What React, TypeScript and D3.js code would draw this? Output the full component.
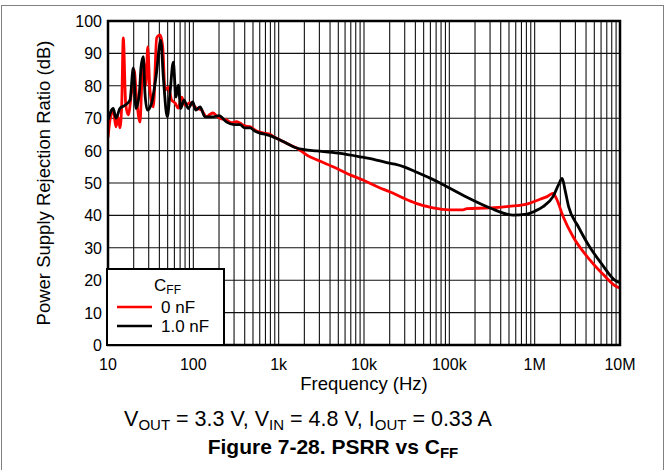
import React from "react";
import * as d3 from "d3";

const W = 666;
const H = 470;

const xTickValues = [10, 100, 1e3, 1e4, 1e5, 1e6, 1e7];
const xTickLabels = ["10", "100", "1k", "10k", "100k", "1M", "10M"];
const yTickValues = [0, 10, 20, 30, 40, 50, 60, 70, 80, 90, 100];

// 0 nF (red)
const red0nF: [number, number][] = [
  [10, 64], [10.55, 69.4], [11.5, 72.5], [12.4, 67.3], [13.1, 70.4], [13.8, 67],
  [14.5, 74.7], [15.1, 94.8], [16.1, 74.7], [17.2, 71], [19.0, 78.7], [20.2, 85],
  [21.7, 75.6], [23.7, 68.8], [24.8, 79.6], [25.9, 88], [27.9, 80.2], [29.2, 92],
  [31.0, 78.7], [34.0, 73.5], [37.2, 94.8], [40.7, 95.7], [43.8, 92], [46.6, 78.7],
  [50.9, 79.6], [55.7, 75.6], [61.0, 74.7], [66.7, 73.1], [73.1, 76.5], [79.9, 74],
  [91.4, 74.7], [109, 73.1], [125, 72.5], [143, 70.4], [157, 71.2], [170, 71.6],
  [190, 70.5], [215, 69.8], [246, 69.4], [280, 68.6], [320, 68.9], [352, 68.5],
  [400, 67.6], [461, 67.4], [530, 66.3], [604, 65.7], [700, 65.3], [791, 65.0],
  [900, 64.1], [1037, 63.3], [1358, 61.7], [1626, 60.8], [2200, 58.4], [2792, 57.2],
  [4335, 55], [6500, 52.8], [9730, 50.9], [15000, 48.6], [20000, 47.3], [28650, 45.4],
  [40000, 43.8], [64400, 42.3], [100000, 41.7], [144600, 41.7], [160000, 42.1],
  [300000, 42.3], [500000, 42.8], [807000, 43.5], [1156000, 45], [1400000, 45.8],
  [1640000, 46.8], [1800000, 45.2], [2160000, 39.6], [2820000, 33.4], [4460000, 26.2],
  [6500000, 21.5], [8750000, 18.3], [10000000, 17.6],
];

// 1.0 nF (black)
const black1nF: [number, number][] = [
  [10, 69.4], [11.5, 73], [12.4, 70], [13.8, 73], [15.8, 74], [18.1, 75.6],
  [19.8, 85.5], [21.3, 73], [23.3, 77.8], [24.4, 85.8], [25.9, 89], [27.1, 77.8],
  [28.9, 72.5], [32.5, 74.7], [36.5, 82.7], [41.5, 94], [44.5, 82.7], [49.5, 70.4],
  [53.3, 77.8], [58.2, 87.3], [62.6, 76.5], [66.7, 80.2], [71.1, 73], [77.7, 75.6],
  [87.3, 73], [98.3, 75], [107, 72.5], [120, 73.5], [137, 70.4], [170, 70.4],
  [200, 70.8], [246, 68.8], [300, 68.0], [352, 68], [400, 67], [461, 67],
  [530, 66], [604, 65.4], [700, 65.0], [791, 64.6], [900, 64], [1037, 63.3],
  [1358, 61.7], [1626, 60.8], [2000, 60.3], [2792, 59.9], [5000, 59.2], [8977, 58.1],
  [13000, 57.3], [18450, 56.3], [23000, 55.8], [30000, 54.9], [40000, 53.5], [59400, 51.5],
  [77800, 50], [150000, 46], [300000, 42.3], [557000, 40.1], [807000, 40.4],
  [1000000, 41.3], [1253000, 42.7], [1640000, 45.8], [1900000, 49.4], [2100000, 51.4],
  [2270000, 47.8], [2500000, 42.7], [3250000, 36.5], [4400000, 30.3], [6000000, 25.3],
  [8900000, 19.8], [10000000, 19.2],
];

const FONT = "'Liberation Sans', Arial, Helvetica, sans-serif";

export default function App() {
  const left = 108, right = 620, top = 21, bottom = 345;
  const x = d3.scaleLog().domain([10, 1e7]).range([left, right]);
  const y = d3.scaleLinear().domain([0, 100]).range([bottom, top]);

  const minor: number[] = [];
  for (let e = 1; e < 7; e++) {
    for (let m = 2; m <= 9; m++) minor.push(m * Math.pow(10, e));
  }

  const line = d3
    .line<[number, number]>()
    .x((d) => x(d[0]))
    .y((d) => y(d[1]))
    .curve(d3.curveMonotoneX);

  const legX = 107, legY = 269, legW = 117, legH = 76;

  return (
    <svg
      width={W}
      height={H}
      style={{ position: "absolute", left: 0, top: 0, background: "#fff" }}
      fontFamily={FONT}
    >
      <rect x={1.5} y={5.5} width={662} height={480} fill="#fff" stroke="#808080" strokeWidth={1} />
      <defs>
        <clipPath id="plotclip">
          <rect x={left} y={top} width={right - left} height={bottom - top} />
        </clipPath>
      </defs>
      {/* grid */}
      <g stroke="#111" strokeWidth={1.1}>
        {minor.concat(xTickValues).map((v, i) => (
          <line key={"v" + i} x1={x(v)} x2={x(v)} y1={top} y2={bottom} />
        ))}
        {yTickValues.map((v, i) => (
          <line key={"h" + i} x1={left} x2={right} y1={y(v)} y2={y(v)} />
        ))}
      </g>
      {/* curves */}
      <g clipPath="url(#plotclip)" fill="none" strokeWidth={2.8} strokeLinejoin="round">
        <path d={line(red0nF) || ""} stroke="#ff0000" />
        <path d={line(black1nF) || ""} stroke="#000000" />
      </g>
      {/* frame */}
      <rect x={left} y={top} width={right - left} height={bottom - top} fill="none" stroke="#000" strokeWidth={2.5} />
      {/* legend */}
      <rect x={legX} y={legY} width={legW} height={legH} fill="#fff" stroke="#000" strokeWidth={2} />
      <text x={legX + legW / 2 + 2} y={legY + 22} textAnchor="middle" fontSize={17}>
        C<tspan fontSize={12} dy={3}>FF</tspan>
      </text>
      <line x1={117} x2={152} y1={307} y2={307} stroke="#ff0000" strokeWidth={2.6} />
      <text x={161} y={313} fontSize={17}>0 nF</text>
      <line x1={117} x2={152} y1={326} y2={326} stroke="#000" strokeWidth={2.6} />
      <text x={161} y={332} fontSize={17}>1.0 nF</text>
      {/* y ticks */}
      {yTickValues.map((v, i) => (
        <text key={"yt" + i} x={left - 6} y={y(v) + 6} textAnchor="end" fontSize={16}>
          {v}
        </text>
      ))}
      {/* x ticks */}
      {xTickValues.map((v, i) => (
        <text key={"xt" + i} x={x(v)} y={370} textAnchor="middle" fontSize={16}>
          {xTickLabels[i]}
        </text>
      ))}
      <text x={(left + right) / 2} y={390} textAnchor="middle" fontSize={18.5}>
        Frequency (Hz)
      </text>
      <text
        transform={`translate(50, ${(top + bottom) / 2}) rotate(-90)`}
        textAnchor="middle"
        fontSize={18.5}
      >
        Power Supply Rejection Ratio (dB)
      </text>
      <text x={308} y={426} textAnchor="middle" fontSize={21.5}>
        V<tspan fontSize={15} dy={4}>OUT</tspan>
        <tspan dy={-4}> = 3.3 V, V</tspan>
        <tspan fontSize={15} dy={4}>IN</tspan>
        <tspan dy={-4}> = 4.8 V, I</tspan>
        <tspan fontSize={15} dy={4}>OUT</tspan>
        <tspan dy={-4}> = 0.33 A</tspan>
      </text>
      <text x={333} y={454} textAnchor="middle" fontSize={21} fontWeight="bold">
        Figure 7-28. PSRR vs C<tspan fontSize={15} dy={4}>FF</tspan>
      </text>
    </svg>
  );
}
